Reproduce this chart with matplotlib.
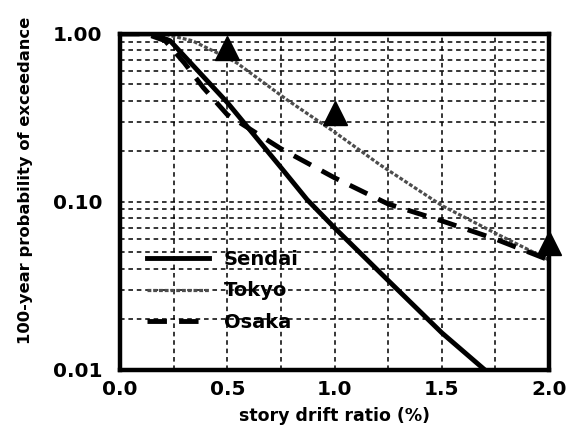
import matplotlib
matplotlib.use('Agg')
import matplotlib.pyplot as plt

plt.rcParams['font.family'] = 'DejaVu Sans'
plt.rcParams['font.weight'] = 'bold'

# 값
sendai_x = [0.0, 0.15, 0.233, 0.5, 0.75, 0.872, 1.0, 1.25, 1.5, 1.70, 1.75]
sendai_y = [1.0, 1.0, 0.91, 0.39, 0.16, 0.103, 0.070, 0.034, 0.0166, 0.010, 0.0088]

tokyo_x = [0.0, 0.2, 0.336, 0.5, 0.545, 0.778, 1.0, 1.212, 1.5, 1.75, 2.0]
tokyo_y = [1.0, 1.0, 0.91, 0.72, 0.67, 0.405, 0.26, 0.166, 0.095, 0.065, 0.045]

osaka_x = [0.0, 0.12, 0.21, 0.30, 0.387, 0.5, 0.75, 1.0, 1.25, 1.5, 1.75, 2.0]
osaka_y = [1.0, 1.0, 0.91, 0.67, 0.48, 0.33, 0.207, 0.139, 0.097, 0.077, 0.060, 0.045]

tri_x = [0.5, 1.0, 2.0]
tri_y = [0.82, 0.34, 0.057]

xticks = [0.0, 0.5, 1.0, 1.5, 2.0]
xtick_labels = ['0.0', '0.5', '1.0', '1.5', '2.0']
yticks = [0.01, 0.1, 1.0]
ytick_labels = ['0.01', '0.10', '1.00']

fig = plt.figure(figsize=(5.69, 4.45), dpi=100)
ax = fig.add_axes([0.211, 0.169, 0.754, 0.755])

ax.set_yscale('log')
ax.set_xlim(0, 2.0)
ax.set_ylim(0.01, 1.0)

# 모눈
ax.set_xticks([0.25, 0.75, 1.25, 1.75], minor=True)
ax.set_xticks(xticks)
ax.set_xticklabels(xtick_labels)
ax.set_yticks(yticks)
ax.set_yticklabels(ytick_labels)
ax.grid(True, which='both', color='black', linestyle=(0, (3, 2.5)), linewidth=1.1)
ax.set_axisbelow(True)
ax.tick_params(which='both', length=0, labelsize=14.5)
ax.tick_params(axis='x', pad=7)
ax.tick_params(axis='y', pad=13)
for lab in ax.get_xticklabels() + ax.get_yticklabels():
    lab.set_fontweight('bold')

for s in ax.spines.values():
    s.set_linewidth(3.2)
    s.set_zorder(5)

ax.plot(sendai_x, sendai_y, color='black', linewidth=3.5, label='Sendai')
ax.plot(tokyo_x, tokyo_y, color='0.3', linewidth=2.3, linestyle=(0, (1.2, 0.6)), label='Tokyo')
ax.plot(osaka_x, osaka_y, color='black', linewidth=3.5, linestyle=(0, (4, 2.5)), label='Osaka')

ax.plot(tri_x, tri_y, linestyle='none', marker='^', markersize=17, color='black', clip_on=False, zorder=6)

ax.set_xlabel('story drift ratio (%)', fontsize=12.5, fontweight='bold', labelpad=6)
ax.set_ylabel('100-year probability of exceedance', fontsize=11.8, fontweight='bold')
ax.yaxis.set_label_coords(-0.204, 0.565)

leg = ax.legend(loc='lower left', bbox_to_anchor=(0.063, 0.113), frameon=False, fontsize=14,
                handlelength=3.2, handletextpad=0.75, labelspacing=0.64, borderpad=0, borderaxespad=0)
for t in leg.get_texts():
    t.set_fontweight('bold')

fig.savefig('out.png', dpi=100)
